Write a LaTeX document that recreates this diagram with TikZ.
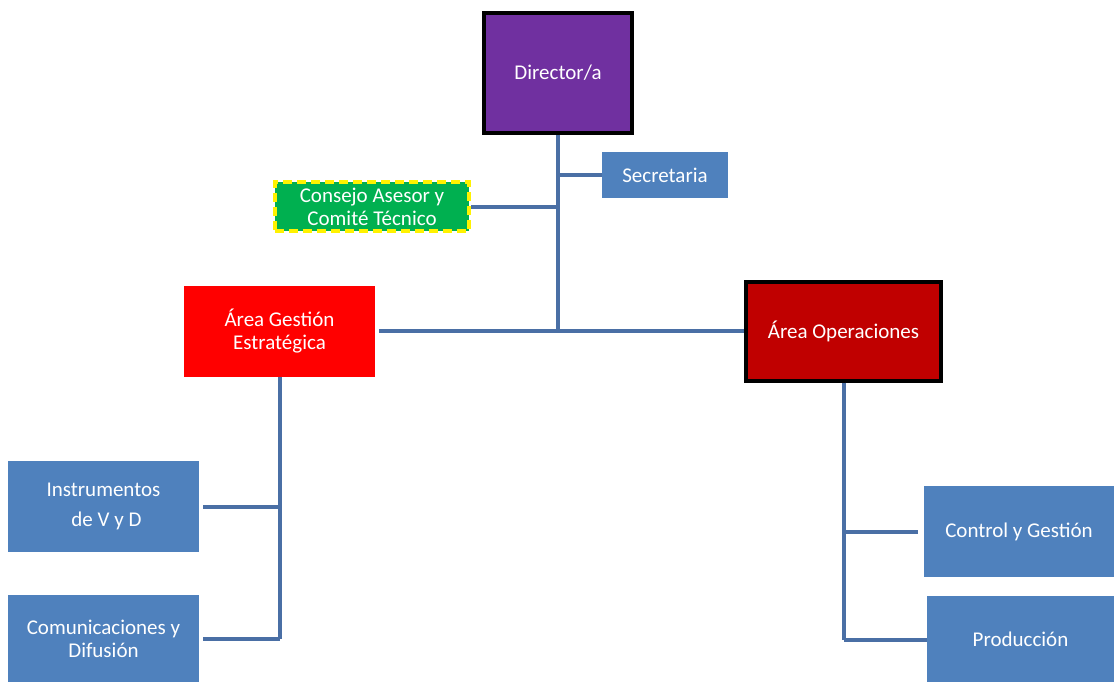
\documentclass[tikz,border=0pt]{standalone}
\usepackage{fontspec}
\setmainfont{Carlito}
\definecolor{conn}{RGB}{74,111,165}
\definecolor{boxblue}{RGB}{79,129,189}
\definecolor{purp}{RGB}{112,48,160}
\definecolor{darkred}{RGB}{192,0,0}
\definecolor{grn}{RGB}{0,176,80}
\begin{document}
\begin{tikzpicture}[x=1pt,y=-1pt,
  orgbox/.style={rectangle, inner sep=0pt, text=white, align=center,
    font=\fontsize{21}{23}\selectfont},
  bluebox/.style={orgbox, fill=boxblue},
  link/.style={draw=conn, line width=4pt}]
\useasboundingbox (0,0) rectangle (1114,682);
\node[orgbox, fill=purp, draw=black, line width=4pt, minimum width=148pt, minimum height=120pt] (dir) at (558,73) {Director/a};
\node[bluebox, minimum width=126pt, minimum height=46pt] (sec) at (665,175) {Secretaria};
\node[orgbox, fill=grn, draw=yellow, dash pattern=on 9pt off 5pt, line width=4.5pt, minimum width=194pt, minimum height=49pt] (con) at (372,206.5) {Consejo Asesor y\\Comité Técnico};
\node[orgbox, fill=red, minimum width=191pt, minimum height=91pt] (gest) at (279.5,331) {Área Gestión\\Estratégica};
\node[orgbox, fill=darkred, draw=black, line width=4pt, minimum width=195pt, minimum height=99pt] (ops) at (843.5,331) {Área Operaciones};
\node[bluebox, minimum width=191pt, minimum height=91pt] (ins) at (103.5,506.5) {Instrumentos\\[7pt]\hspace{6pt}de V y D};
\node[bluebox, minimum width=191pt, minimum height=87pt] (com) at (103.5,638.5) {Comunicaciones y\\Difusión};
\node[bluebox, minimum width=190pt, minimum height=91pt] (ctl) at (1019,531.5) {Control y Gestión};
\node[bluebox, minimum width=187pt, minimum height=87pt] (pro) at (1020.5,639.5) {Producción};
% connectors
\draw[link] (dir.south) -- (dir.south |- ops.west);
\draw[link] (dir.south |- sec.west) -- (sec.west);
\draw[link] (con.east) -- (con.east -| dir.south);
\draw[link, shorten <=4pt] (gest.east) -- (ops.west);
\draw[link] (gest.south) -- (gest.south |- com.east);
\draw[link, shorten <=4pt] (ins.east) -- (ins.east -| gest.south);
\draw[link, shorten <=4pt] (com.east) -- (com.east -| gest.south);
\draw[link] (ops.south) -- (ops.south |- pro.west);
\draw[link, shorten <=6pt] (ctl.west) -- (ctl.west -| ops.south);
\draw[link] (pro.west) -- (pro.west -| ops.south);
\end{tikzpicture}
\end{document}
